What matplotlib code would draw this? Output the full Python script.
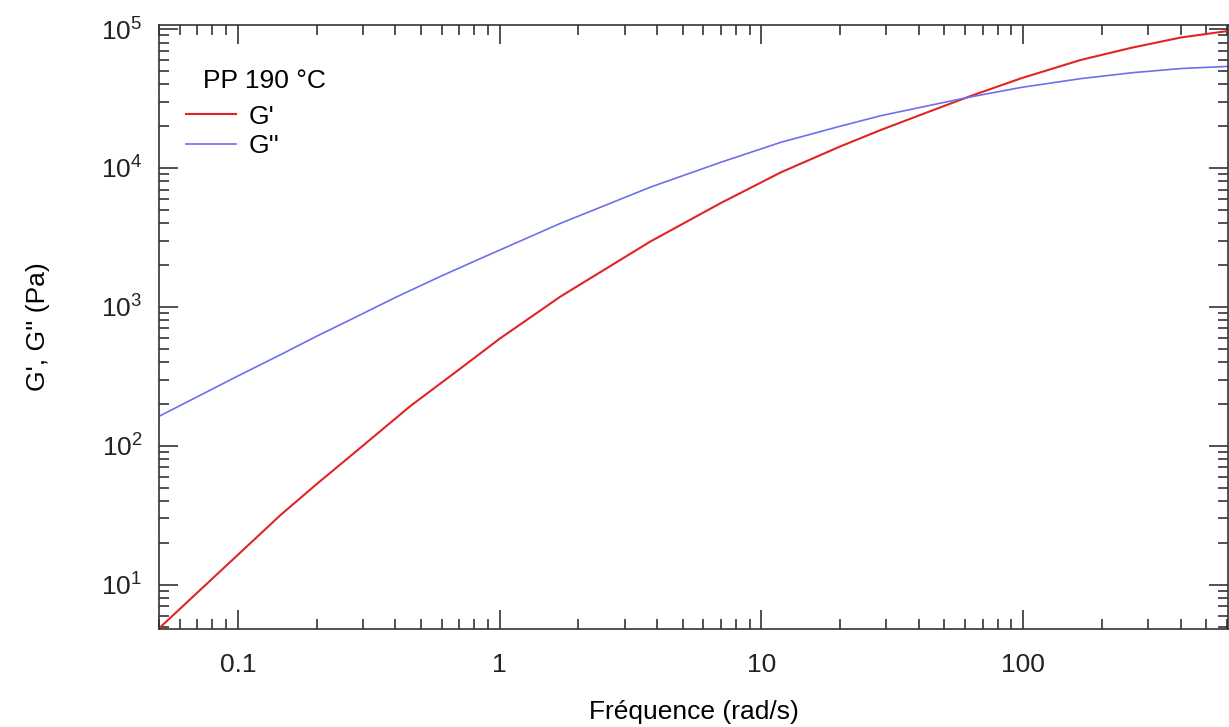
import matplotlib
matplotlib.use('Agg')
import matplotlib.pyplot as plt
from matplotlib.ticker import LogLocator, FixedLocator, FixedFormatter, NullFormatter

plt.rcParams['font.family'] = ['Liberation Sans', 'DejaVu Sans']
plt.rcParams['mathtext.fontset'] = 'custom'
plt.rcParams['mathtext.rm'] = 'Liberation Sans'
plt.rcParams['mathtext.it'] = 'Liberation Sans'

# frequency (rad/s) and moduli (Pa)
freq_g1 = [0.05, 0.1, 0.146, 0.2, 0.3, 0.457, 0.68, 1.0, 1.71, 3.78, 7.0, 11.85, 20, 28.6, 45,
           63, 98, 166, 260, 400, 620]
g_prime = [4.85, 16.4, 31.9, 53, 100, 194, 340, 590, 1190, 2970, 5600, 9300, 14300, 18800, 26000,
           33000, 44200, 60000, 73500, 87000, 97500]

freq_g2 = [0.05, 0.1, 0.146, 0.2, 0.27, 0.4, 0.595, 0.845, 1.71, 3.78, 7.0, 11.85, 20, 28.6, 45,
           63, 98, 166, 260, 400, 620]
g_second = [163, 318, 454, 615, 811, 1170, 1660, 2230, 4000, 7300, 11000, 15300, 20000, 23800, 28500,
            32500, 38000, 44000, 48500, 52000, 54000]

xtick_vals = [0.1, 1, 10, 100]
xtick_labels = ['0.1', '1', '10', '100']

fig = plt.figure(figsize=(12.29, 7.27), dpi=100)
ax = fig.add_axes([159 / 1229, 1 - 629 / 727, (1228 - 159) / 1229, (629 - 25) / 727])

ax.plot(freq_g1, g_prime, color='#e02424', lw=1.5, label="G'")
ax.plot(freq_g2, g_second, color='#6e6ef0', lw=1.2, label="G''")

ax.set_xscale('log')
ax.set_yscale('log')
ax.set_xlim(0.05, 605)
ax.set_ylim(4.8, 1.07e5)

ax.xaxis.set_major_locator(FixedLocator(xtick_vals))
ax.xaxis.set_major_formatter(FixedFormatter(xtick_labels))
ax.xaxis.set_minor_locator(LogLocator(base=10, subs=range(2, 10), numticks=20))
ax.xaxis.set_minor_formatter(NullFormatter())
ax.yaxis.set_major_locator(LogLocator(base=10, numticks=10))
ax.yaxis.set_minor_locator(LogLocator(base=10, subs=range(2, 10), numticks=20))
ax.yaxis.set_minor_formatter(NullFormatter())

ax.tick_params(which='both', direction='in', top=True, right=True, width=1.1, colors='#222222')
ax.tick_params(which='major', length=14, labelsize=19)
ax.tick_params(which='minor', length=7)
ax.tick_params(axis='x', which='major', pad=17)
ax.tick_params(axis='y', which='major', pad=12)
for s in ax.spines.values():
    s.set_linewidth(1.2)
    s.set_color('#333333')

ax.set_xlabel('Fréquence (rad/s)', fontsize=19)
ax.set_ylabel("G', G'' (Pa)", fontsize=19)
ax.xaxis.set_label_coords(0.5, -0.118)
ax.yaxis.set_label_coords(-0.102, 0.5)

ax.text(0.041, 0.908, 'PP 190 °C', transform=ax.transAxes, fontsize=19, va='center', ha='left')
ax.legend(loc='upper left', bbox_to_anchor=(0.025, 0.868), frameon=False, fontsize=19,
          borderpad=0, borderaxespad=0, handlelength=1.9, handletextpad=0.5, labelspacing=0.2)

fig.savefig('out.png', dpi=100)
